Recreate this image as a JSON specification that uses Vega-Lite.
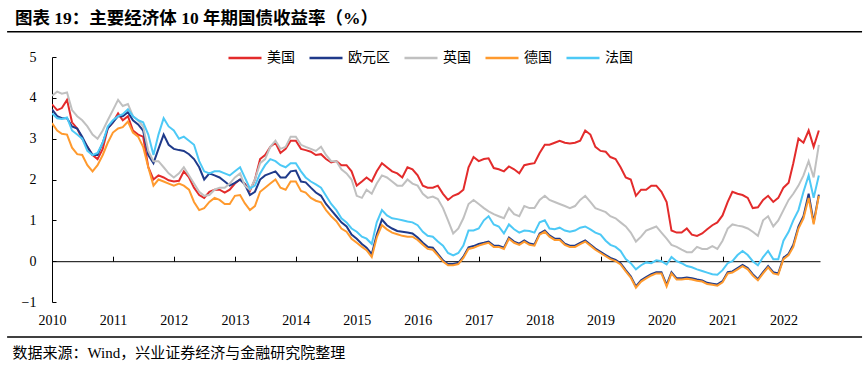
{
  "$schema": "https://vega.github.io/schema/vega-lite/v6.json",
  "width": 768,
  "height": 245,
  "autosize": "none",
  "padding": {"left": 52, "top": 57, "right": 45, "bottom": 66},
  "background": "white",
  "config": {
    "view": {"stroke": null},
    "axis": {"grid": false, "domainColor": "black", "tickColor": "black", "labelColor": "black", "titleColor": "black"}
  },
  "title": {
    "text": "图表 19：主要经济体 10 年期国债收益率（%）",
    "anchor": "start",
    "frame": "group",
    "font": "Liberation Serif, Noto Sans CJK SC",
    "fontSize": 17.5,
    "fontWeight": "bold",
    "color": "black",
    "dx": -37,
    "offset": 3
  },
  "layer": [
    {
      "data": {"values": [
        {"d":"2010-01-01","美国":3.84,"欧元区":3.72,"英国":4.05,"德国":3.38,"法国":3.62},
        {"d":"2010-02-01","美国":3.70,"欧元区":3.55,"英国":4.15,"德国":3.20,"法国":3.50},
        {"d":"2010-03-01","美国":3.75,"欧元区":3.50,"英国":4.10,"德国":3.12,"法国":3.48},
        {"d":"2010-04-01","美国":3.95,"欧元区":3.50,"英国":4.13,"德国":3.10,"法国":3.52},
        {"d":"2010-05-01","美国":3.40,"欧元区":3.30,"英国":3.70,"德国":2.78,"法国":3.20},
        {"d":"2010-06-01","美国":3.25,"欧元区":3.25,"英国":3.55,"德国":2.62,"法国":3.10},
        {"d":"2010-07-01","美国":3.00,"欧元区":3.05,"英国":3.45,"德国":2.60,"法国":3.00},
        {"d":"2010-08-01","美国":2.80,"欧元区":2.80,"英国":3.30,"德国":2.35,"法国":2.70},
        {"d":"2010-09-01","美国":2.60,"欧元区":2.60,"英国":3.10,"德国":2.20,"法国":2.60},
        {"d":"2010-10-01","美国":2.50,"欧元区":2.60,"英国":3.00,"德国":2.35,"法国":2.65},
        {"d":"2010-11-01","美国":2.75,"欧元区":2.90,"英国":3.20,"德国":2.60,"法国":2.90},
        {"d":"2010-12-01","美国":3.25,"欧元区":3.25,"英国":3.45,"德国":2.90,"法国":3.30},
        {"d":"2011-01-01","美国":3.40,"欧元区":3.40,"英国":3.70,"德国":3.15,"法国":3.45},
        {"d":"2011-02-01","美国":3.62,"欧元区":3.55,"英国":3.95,"德国":3.25,"法国":3.55},
        {"d":"2011-03-01","美国":3.45,"欧元区":3.55,"英国":3.80,"德国":3.28,"法国":3.60},
        {"d":"2011-04-01","美国":3.55,"欧元区":3.65,"英国":3.85,"德国":3.42,"法国":3.72},
        {"d":"2011-05-01","美国":3.20,"欧元区":3.45,"英国":3.55,"德国":3.15,"法国":3.55},
        {"d":"2011-06-01","美国":3.10,"欧元区":3.35,"英国":3.45,"德国":3.05,"法国":3.45},
        {"d":"2011-07-01","美国":3.05,"欧元区":3.20,"英国":3.30,"德国":2.80,"法国":3.40},
        {"d":"2011-08-01","美国":2.30,"欧元区":2.60,"英国":2.70,"德国":2.30,"法国":3.10},
        {"d":"2011-09-01","美国":2.00,"欧元区":2.40,"英国":2.45,"德国":1.85,"法国":2.60},
        {"d":"2011-10-01","美国":2.10,"欧元区":2.75,"英国":2.45,"德国":2.00,"法国":3.10},
        {"d":"2011-11-01","美国":2.05,"欧元区":3.10,"英国":2.30,"德国":1.95,"法国":3.50},
        {"d":"2011-12-01","美国":1.98,"欧元区":2.85,"英国":2.15,"德国":1.90,"法国":3.30},
        {"d":"2012-01-01","美国":1.95,"欧元区":2.75,"英国":2.05,"德国":1.85,"法国":3.20},
        {"d":"2012-02-01","美国":1.97,"欧元区":2.72,"英国":2.15,"德国":1.90,"法国":3.00},
        {"d":"2012-03-01","美国":2.20,"欧元区":2.70,"英国":2.30,"德国":1.85,"法国":3.05},
        {"d":"2012-04-01","美国":2.05,"欧元区":2.62,"英国":2.10,"德国":1.75,"法国":2.95},
        {"d":"2012-05-01","美国":1.80,"欧元区":2.50,"英国":1.90,"德国":1.45,"法国":2.85},
        {"d":"2012-06-01","美国":1.62,"欧元区":2.30,"英国":1.70,"德国":1.25,"法国":2.45},
        {"d":"2012-07-01","美国":1.55,"欧元区":2.00,"英国":1.60,"德国":1.30,"法国":2.20},
        {"d":"2012-08-01","美国":1.70,"欧元区":2.15,"英国":1.62,"德国":1.45,"法国":2.15},
        {"d":"2012-09-01","美国":1.75,"欧元区":2.10,"英国":1.75,"德国":1.55,"法国":2.20},
        {"d":"2012-10-01","美国":1.75,"欧元区":2.05,"英国":1.80,"德国":1.50,"法国":2.20},
        {"d":"2012-11-01","美国":1.68,"欧元区":1.95,"英国":1.80,"德国":1.40,"法国":2.15},
        {"d":"2012-12-01","美国":1.75,"欧元区":1.85,"英国":1.90,"德国":1.40,"法国":2.10},
        {"d":"2013-01-01","美国":1.90,"欧元区":1.92,"英国":2.05,"德国":1.60,"法国":2.20},
        {"d":"2013-02-01","美国":2.00,"欧元区":2.00,"英国":2.15,"德国":1.62,"法国":2.30},
        {"d":"2013-03-01","美国":1.90,"欧元区":1.88,"英国":1.85,"德国":1.42,"法国":2.05},
        {"d":"2013-04-01","美国":1.72,"欧元区":1.62,"英国":1.75,"德国":1.25,"法国":1.78},
        {"d":"2013-05-01","美国":2.00,"欧元区":1.70,"英国":2.00,"德国":1.35,"法国":1.85},
        {"d":"2013-06-01","美国":2.50,"欧元区":2.00,"英国":2.40,"德国":1.70,"法国":2.15},
        {"d":"2013-07-01","美国":2.60,"欧元区":2.10,"英国":2.50,"德国":1.80,"法国":2.35},
        {"d":"2013-08-01","美国":2.80,"欧元区":2.15,"英国":2.80,"德国":1.90,"法国":2.50},
        {"d":"2013-09-01","美国":2.90,"欧元区":2.20,"英国":2.95,"德国":2.00,"法国":2.45},
        {"d":"2013-10-01","美国":2.65,"欧元区":2.05,"英国":2.75,"德国":1.80,"法国":2.35},
        {"d":"2013-11-01","美国":2.75,"欧元区":2.05,"英国":2.80,"德国":1.75,"法国":2.30},
        {"d":"2013-12-01","美国":2.95,"欧元区":2.20,"英国":3.05,"德国":1.95,"法国":2.40},
        {"d":"2014-01-01","美国":2.95,"欧元区":2.22,"英国":3.05,"德国":1.95,"法国":2.40},
        {"d":"2014-02-01","美国":2.75,"欧元区":1.95,"英国":2.85,"德国":1.72,"法国":2.20},
        {"d":"2014-03-01","美国":2.72,"欧元区":1.93,"英国":2.80,"德国":1.68,"法国":2.05},
        {"d":"2014-04-01","美国":2.68,"欧元区":1.80,"英国":2.75,"德国":1.55,"法国":1.95},
        {"d":"2014-05-01","美国":2.60,"欧元区":1.68,"英国":2.70,"德国":1.48,"法国":1.88},
        {"d":"2014-06-01","美国":2.62,"欧元区":1.60,"英国":2.80,"德国":1.44,"法国":1.80},
        {"d":"2014-07-01","美国":2.50,"欧元区":1.40,"英国":2.60,"德国":1.25,"法国":1.60},
        {"d":"2014-08-01","美国":2.42,"欧元区":1.25,"英国":2.45,"德国":1.10,"法国":1.40},
        {"d":"2014-09-01","美国":2.45,"欧元区":1.10,"英国":2.45,"德国":0.98,"法国":1.25},
        {"d":"2014-10-01","美国":2.35,"欧元区":0.95,"英国":2.25,"德国":0.80,"法国":1.05},
        {"d":"2014-11-01","美国":2.35,"欧元区":0.85,"英国":2.15,"德国":0.72,"法国":0.95},
        {"d":"2014-12-01","美国":2.20,"欧元区":0.65,"英国":2.00,"德国":0.55,"法国":0.80},
        {"d":"2015-01-01","美国":1.85,"欧元区":0.55,"英国":1.60,"德国":0.45,"法国":0.72},
        {"d":"2015-02-01","美国":1.95,"欧元区":0.42,"英国":1.55,"德国":0.35,"法国":0.60},
        {"d":"2015-03-01","美国":2.05,"欧元区":0.33,"英国":1.75,"德国":0.27,"法国":0.55},
        {"d":"2015-04-01","美国":1.95,"欧元区":0.17,"英国":1.65,"德国":0.10,"法国":0.42},
        {"d":"2015-05-01","美国":2.20,"欧元区":0.65,"英国":1.90,"德国":0.58,"法国":0.95},
        {"d":"2015-06-01","美国":2.40,"欧元区":1.02,"英国":2.10,"德国":0.88,"法国":1.25},
        {"d":"2015-07-01","美国":2.30,"欧元区":0.88,"英国":2.05,"德国":0.78,"法国":1.12},
        {"d":"2015-08-01","美国":2.20,"欧元区":0.80,"英国":1.95,"德国":0.70,"法国":1.05},
        {"d":"2015-09-01","美国":2.15,"欧元区":0.74,"英国":1.85,"德国":0.66,"法国":1.03},
        {"d":"2015-10-01","美国":2.05,"欧元区":0.72,"英国":1.85,"德国":0.62,"法国":1.00},
        {"d":"2015-11-01","美国":2.30,"欧元区":0.70,"英国":2.00,"德国":0.60,"法国":0.97},
        {"d":"2015-12-01","美国":2.25,"欧元区":0.68,"英国":1.90,"德国":0.60,"法国":0.95},
        {"d":"2016-01-01","美国":2.10,"欧元区":0.58,"英国":1.85,"德国":0.52,"法国":0.88},
        {"d":"2016-02-01","美国":1.85,"欧元区":0.45,"英国":1.65,"德国":0.40,"法国":0.72},
        {"d":"2016-03-01","美国":1.80,"欧元区":0.35,"英国":1.55,"德国":0.30,"法国":0.62},
        {"d":"2016-04-01","美国":1.80,"欧元区":0.33,"英国":1.58,"德国":0.28,"法国":0.60},
        {"d":"2016-05-01","美国":1.85,"欧元区":0.18,"英国":1.52,"德国":0.14,"法国":0.48},
        {"d":"2016-06-01","美国":1.65,"欧元区":0.02,"英国":1.30,"德国":-0.01,"法国":0.38},
        {"d":"2016-07-01","美国":1.50,"欧元区":-0.07,"英国":1.00,"德国":-0.10,"法国":0.20},
        {"d":"2016-08-01","美国":1.60,"欧元区":-0.07,"英国":0.68,"德国":-0.10,"法国":0.14},
        {"d":"2016-09-01","美国":1.65,"欧元区":-0.04,"英国":0.80,"德国":-0.07,"法国":0.20},
        {"d":"2016-10-01","美国":1.75,"欧元区":0.11,"英国":1.05,"德国":0.08,"法国":0.38},
        {"d":"2016-11-01","美国":2.30,"欧元区":0.34,"英国":1.40,"德国":0.30,"法国":0.75},
        {"d":"2016-12-01","美国":2.55,"欧元区":0.37,"英国":1.50,"德国":0.33,"法国":0.75},
        {"d":"2017-01-01","美国":2.45,"欧元区":0.42,"英国":1.40,"德国":0.38,"法国":0.80},
        {"d":"2017-02-01","美国":2.50,"欧元区":0.45,"英国":1.30,"德国":0.42,"法国":1.00},
        {"d":"2017-03-01","美国":2.52,"欧元区":0.48,"英国":1.22,"德国":0.45,"法国":1.10},
        {"d":"2017-04-01","美国":2.28,"欧元区":0.38,"英国":1.15,"德国":0.35,"法国":0.90},
        {"d":"2017-05-01","美国":2.25,"欧元区":0.38,"英国":1.10,"德国":0.35,"法国":0.85},
        {"d":"2017-06-01","美国":2.20,"欧元区":0.33,"英国":1.05,"德国":0.30,"法国":0.68},
        {"d":"2017-07-01","美国":2.32,"欧元区":0.58,"英国":1.30,"德国":0.55,"法国":0.90},
        {"d":"2017-08-01","美国":2.25,"欧元区":0.48,"英国":1.15,"德国":0.45,"法国":0.78},
        {"d":"2017-09-01","美国":2.15,"欧元区":0.43,"英国":1.10,"德国":0.40,"法国":0.70},
        {"d":"2017-10-01","美国":2.35,"欧元区":0.51,"英国":1.35,"德国":0.48,"法国":0.75},
        {"d":"2017-11-01","美国":2.38,"欧元区":0.43,"英国":1.30,"德国":0.40,"法国":0.74},
        {"d":"2017-12-01","美国":2.40,"欧元区":0.41,"英国":1.30,"德国":0.38,"法国":0.70},
        {"d":"2018-01-01","美国":2.65,"欧元区":0.68,"英国":1.50,"德国":0.65,"法国":0.95},
        {"d":"2018-02-01","美国":2.85,"欧元区":0.75,"英国":1.60,"德国":0.72,"法国":1.00},
        {"d":"2018-03-01","美国":2.85,"欧元区":0.63,"英国":1.50,"德国":0.60,"法国":0.80},
        {"d":"2018-04-01","美国":2.90,"欧元区":0.55,"英国":1.45,"德国":0.52,"法国":0.78},
        {"d":"2018-05-01","美国":2.95,"欧元区":0.55,"英国":1.40,"德国":0.52,"法国":0.82},
        {"d":"2018-06-01","美国":2.90,"欧元区":0.43,"英国":1.35,"德国":0.40,"法国":0.75},
        {"d":"2018-07-01","美国":2.88,"欧元区":0.38,"英国":1.30,"德国":0.35,"法国":0.72},
        {"d":"2018-08-01","美国":2.90,"欧元区":0.38,"英国":1.35,"德国":0.35,"法国":0.75},
        {"d":"2018-09-01","美国":2.95,"欧元区":0.45,"英国":1.50,"德国":0.42,"法国":0.82},
        {"d":"2018-10-01","美国":3.20,"欧元区":0.51,"英国":1.60,"德国":0.48,"法国":0.85},
        {"d":"2018-11-01","美国":3.10,"欧元区":0.41,"英国":1.45,"德国":0.38,"法国":0.78},
        {"d":"2018-12-01","美国":2.80,"欧元区":0.31,"英国":1.30,"德国":0.28,"法国":0.70},
        {"d":"2019-01-01","美国":2.70,"欧元区":0.23,"英国":1.25,"德国":0.20,"法国":0.65},
        {"d":"2019-02-01","美国":2.68,"欧元区":0.15,"英国":1.20,"德国":0.12,"法国":0.50},
        {"d":"2019-03-01","美国":2.55,"欧元区":0.08,"英国":1.10,"德国":0.05,"法国":0.40},
        {"d":"2019-04-01","美国":2.50,"欧元区":0.03,"英国":1.05,"德国":0.00,"法国":0.35},
        {"d":"2019-05-01","美国":2.30,"欧元区":-0.05,"英国":0.95,"德国":-0.08,"法国":0.25},
        {"d":"2019-06-01","美国":2.05,"欧元区":-0.22,"英国":0.85,"德国":-0.25,"法国":0.05},
        {"d":"2019-07-01","美国":2.00,"欧元区":-0.37,"英国":0.70,"德国":-0.40,"法国":-0.05},
        {"d":"2019-08-01","美国":1.60,"欧元区":-0.62,"英国":0.48,"德国":-0.65,"法国":-0.20},
        {"d":"2019-09-01","美国":1.75,"欧元区":-0.47,"英国":0.60,"德国":-0.50,"法国":-0.10},
        {"d":"2019-10-01","美国":1.75,"欧元区":-0.39,"英国":0.75,"德国":-0.42,"法国":-0.03},
        {"d":"2019-11-01","美国":1.85,"欧元区":-0.32,"英国":0.80,"德国":-0.35,"法国":-0.05},
        {"d":"2019-12-01","美国":1.85,"欧元区":-0.27,"英国":0.85,"德国":-0.30,"法国":0.02},
        {"d":"2020-01-01","美国":1.70,"欧元区":-0.27,"英国":0.70,"德国":-0.30,"法国":0.00},
        {"d":"2020-02-01","美国":1.45,"欧元区":-0.58,"英国":0.55,"德国":-0.62,"法国":-0.08},
        {"d":"2020-03-01","美国":0.75,"欧元区":-0.27,"英国":0.40,"德国":-0.30,"法国":0.10},
        {"d":"2020-04-01","美国":0.70,"欧元区":-0.42,"英国":0.35,"德国":-0.45,"法国":0.00},
        {"d":"2020-05-01","美国":0.70,"欧元区":-0.42,"英国":0.28,"德国":-0.45,"法国":-0.05},
        {"d":"2020-06-01","美国":0.80,"欧元区":-0.40,"英国":0.22,"德国":-0.43,"法国":-0.12},
        {"d":"2020-07-01","美国":0.65,"欧元区":-0.42,"英国":0.22,"德国":-0.45,"法国":-0.15},
        {"d":"2020-08-01","美国":0.62,"欧元区":-0.45,"英国":0.35,"德国":-0.48,"法国":-0.20},
        {"d":"2020-09-01","美国":0.68,"欧元区":-0.47,"英国":0.30,"德国":-0.50,"法国":-0.24},
        {"d":"2020-10-01","美国":0.78,"欧元区":-0.53,"英国":0.30,"德国":-0.56,"法国":-0.28},
        {"d":"2020-11-01","美国":0.88,"欧元区":-0.55,"英国":0.37,"德国":-0.58,"法国":-0.32},
        {"d":"2020-12-01","美国":0.95,"欧元区":-0.57,"英国":0.30,"德国":-0.60,"法国":-0.33},
        {"d":"2021-01-01","美国":1.12,"欧元区":-0.49,"英国":0.50,"德国":-0.52,"法国":-0.22},
        {"d":"2021-02-01","美国":1.45,"欧元区":-0.27,"英国":0.80,"德国":-0.30,"法国":-0.05},
        {"d":"2021-03-01","美国":1.70,"欧元区":-0.25,"英国":0.90,"德国":-0.28,"法国":0.00},
        {"d":"2021-04-01","美国":1.65,"欧元区":-0.17,"英国":0.87,"德国":-0.20,"法国":0.15},
        {"d":"2021-05-01","美国":1.62,"欧元区":-0.09,"英国":0.85,"德国":-0.12,"法国":0.25},
        {"d":"2021-06-01","美国":1.55,"欧元区":-0.17,"英国":0.80,"德国":-0.20,"法国":0.15},
        {"d":"2021-07-01","美国":1.30,"欧元区":-0.32,"英国":0.72,"德国":-0.35,"法国":0.00},
        {"d":"2021-08-01","美国":1.32,"欧元区":-0.44,"英国":0.62,"德国":-0.47,"法国":-0.10},
        {"d":"2021-09-01","美国":1.50,"欧元区":-0.27,"英国":1.00,"德国":-0.30,"法国":0.10},
        {"d":"2021-10-01","美国":1.60,"欧元区":-0.12,"英国":1.10,"德国":-0.15,"法国":0.25},
        {"d":"2021-11-01","美国":1.45,"欧元区":-0.27,"英国":0.85,"德国":-0.30,"法国":0.05},
        {"d":"2021-12-01","美国":1.55,"欧元区":-0.30,"英国":1.00,"德国":-0.33,"法国":0.05},
        {"d":"2022-01-01","美国":1.80,"欧元区":0.08,"英国":1.25,"德国":0.05,"法国":0.50},
        {"d":"2022-02-01","美国":1.92,"欧元区":0.18,"英国":1.50,"德国":0.15,"法国":0.72},
        {"d":"2022-03-01","美国":2.40,"欧元区":0.40,"英国":1.65,"德国":0.35,"法国":1.00},
        {"d":"2022-04-01","美国":3.00,"欧元区":0.85,"英国":1.85,"德国":0.80,"法国":1.25},
        {"d":"2022-05-01","美国":2.90,"欧元区":1.10,"英国":2.10,"德国":1.05,"法国":1.70},
        {"d":"2022-06-01","美国":3.20,"欧元区":1.65,"英国":2.45,"德国":1.55,"法国":2.10},
        {"d":"2022-07-01","美国":2.80,"欧元区":0.95,"英国":2.05,"德国":0.90,"法国":1.55},
        {"d":"2022-08-01","美国":3.20,"欧元区":1.63,"英国":2.85,"德国":1.60,"法国":2.10}
      ]},
      "transform": [{"fold": ["美国", "欧元区", "英国", "德国", "法国"], "as": ["series", "value"]}],
      "mark": {"type": "line", "strokeWidth": 2, "clip": true},
      "encoding": {
        "x": {
          "field": "d", "type": "temporal",
          "scale": {"type": "utc", "domain": [{"year": 2010, "month": 1, "date": 1, "utc": true}, {"year": 2022, "month": 8, "date": 8, "utc": true}]},
          "axis": {
            "orient": "bottom", "offset": -40.8, "format": "%Y",
            "tickCount": {"interval": "year", "step": 1},
            "tickSize": -5, "labelPadding": 57, "labelFlush": false,
            "labelFont": "Liberation Serif", "labelFontSize": 14,
            "title": "数据来源：Wind，兴业证券经济与金融研究院整理",
            "titleFont": "Liberation Serif, Noto Sans CJK SC", "titleFontSize": 15, "titleFontWeight": "normal",
            "titleX": -40, "titleY": 96, "titleAlign": "left", "titleAnchor": "start", "titleBaseline": "alphabetic"
          }
        },
        "y": {
          "field": "value", "type": "quantitative",
          "scale": {"domain": [-1, 5], "nice": false, "zero": false},
          "axis": {
            "values": [-1, 0, 1, 2, 3, 4, 5], "tickSize": -4, "labelPadding": 20,
            "labelFont": "Liberation Serif", "labelFontSize": 14, "title": null
          }
        },
        "color": {
          "field": "series", "type": "nominal",
          "scale": {"domain": ["美国", "欧元区", "英国", "德国", "法国"], "range": ["#E32B2B", "#1F3A8A", "#C0C0C0", "#FF9A2E", "#4DC9F6"]},
          "legend": {
            "orient": "none", "legendX": 175, "legendY": -17, "direction": "horizontal",
            "title": null, "symbolType": "stroke", "symbolSize": 1090, "symbolStrokeWidth": 2.5,
            "labelFont": "Noto Sans CJK SC", "labelFontSize": 14, "labelColor": "black",
            "labelOffset": 4, "columnPadding": 9, "padding": 0
          }
        }
      }
    },
    {
      "data": {"values": [{}]},
      "mark": {"type": "rule", "color": "black", "strokeWidth": 1.5},
      "encoding": {
        "x": {"datum": {"year": 2009, "month": 4, "date": 7, "utc": true}, "type": "temporal"},
        "x2": {"datum": {"year": 2023, "month": 4, "date": 17, "utc": true}},
        "y": {"datum": 5.62, "type": "quantitative"},
        "y2": {"datum": 5.62}
      }
    },
    {
      "data": {"values": [{}]},
      "mark": {"type": "rule", "color": "black", "strokeWidth": 1.5},
      "encoding": {
        "x": {"datum": {"year": 2009, "month": 4, "date": 7, "utc": true}, "type": "temporal"},
        "x2": {"datum": {"year": 2023, "month": 4, "date": 17, "utc": true}},
        "y": {"datum": -1.857, "type": "quantitative"},
        "y2": {"datum": -1.857}
      }
    }
  ]
}
